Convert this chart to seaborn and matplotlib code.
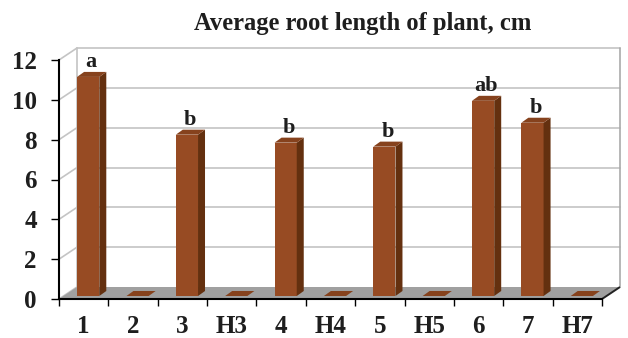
import numpy as np
import pandas as pd
import matplotlib
matplotlib.use("Agg")
import matplotlib.pyplot as plt
import seaborn as sns
from matplotlib.patches import Polygon

# Root length per treatment (cm) and significance letters
categories = ["1", "2", "3", "H3", "4", "H4", "5", "H5", "6", "7", "H7"]
root_length = [11.0, 0.0, 8.1, 0.0, 7.7, 0.0, 7.5, 0.0, 9.8, 8.7, 0.0]
letters = ["a", "", "b", "", "b", "", "b", "", "ab", "b", ""]
y_ticks = [0, 2, 4, 6, 8, 10, 12]

FRONT = "#974B23"
SIDE = "#64300F"
TOP = "#86421D"
FLOOR = "#A0A0A0"
WALL = "#C4C4C4"
INK = "#1E1E1E"

sns.set_theme(style="white")
plt.rcParams["font.family"] = ["Liberation Serif", "DejaVu Serif"]

W, H = 628, 338
fig = plt.figure(figsize=(W / 100, H / 100), dpi=100)
ax = fig.add_axes([59 / W, 39 / H, 543 / W, 239 / H])
ax.set_facecolor("none")

df = pd.DataFrame({"treatment": categories, "length": root_length})
sns.barplot(data=df, x="treatment", y="length", color=FRONT, saturation=1,
            width=0.45, errorbar=None, ax=ax, zorder=3)

ax.set_xlim(-0.5, len(categories) - 0.5)
ax.set_ylim(0, 12)

# data units per pixel
sx = len(categories) / 543
sy = 12 / 239

# depth of the back wall / floor, in pixels
wdx, wdy = 18 * sx, 12 * sy
x_lo, x_hi = -0.5, len(categories) - 0.5

# floor
ax.add_patch(Polygon([(x_lo, 0), (x_hi, 0), (x_hi + wdx, wdy), (x_lo + wdx, wdy)],
                     closed=True, facecolor=FLOOR, edgecolor="none",
                     zorder=1, clip_on=False))
ax.plot([x_hi, x_hi + wdx], [0, wdy], color="#222222", lw=1.4,
        zorder=2, clip_on=False, solid_capstyle="butt")

# back wall frame and gridlines
for v in y_ticks:
    if v > 0:
        ax.plot([x_lo + wdx, x_hi + wdx], [v + wdy, v + wdy], color=WALL,
                lw=1.2, zorder=0.5, clip_on=False)
    ax.plot([x_lo, x_lo + wdx], [v, v + wdy], color=WALL, lw=1.2,
            zorder=0.5, clip_on=False)
ax.plot([x_lo + wdx, x_lo + wdx], [wdy, 12 + wdy], color=WALL, lw=1.2,
        zorder=0.5, clip_on=False)
ax.plot([x_hi + wdx, x_hi + wdx], [wdy, 12 + wdy], color="#AAAAAA", lw=1.2,
        zorder=0.5, clip_on=False)

# 3D bar faces: front face sits slightly inside the floor depth
fx, fy = 4.5 * sx, 3 * sy
bx, by = 7 * sx, 5 * sy
for bar, lab in zip(ax.patches, letters):
    x0, w, h = bar.get_x(), bar.get_width(), bar.get_height()
    bar.set_x(x0 + fx)
    bar.set_y(fy)
    bar.set_edgecolor("none")
    xl, xr = x0 + fx, x0 + fx + w
    ax.add_patch(Polygon([(xr, fy), (xr, fy + h), (xr + bx, fy + h + by), (xr + bx, fy + by)],
                         closed=True, facecolor=SIDE, edgecolor="none",
                         zorder=3, clip_on=False))
    ax.add_patch(Polygon([(xl, fy + h), (xr, fy + h), (xr + bx, fy + h + by), (xl + bx, fy + h + by)],
                         closed=True, facecolor=TOP, edgecolor="none",
                         zorder=3.1, clip_on=False))
    if lab:
        ax.text(x0 + w / 2 + fx + 3 * sx, fy + h + 10 * sy, lab, ha="center",
                va="baseline", fontsize=16, fontweight="bold", color=INK,
                zorder=5, clip_on=False)

# axes
for side in ("top", "right"):
    ax.spines[side].set_visible(False)
for side in ("left", "bottom"):
    ax.spines[side].set_visible(True)
    ax.spines[side].set_color("black")
    ax.spines[side].set_linewidth(1.5)
    ax.spines[side].set_zorder(4)
ax.grid(False)

ax.set_yticks(y_ticks)
ax.set_yticklabels([str(t) for t in y_ticks])
ax.set_xticks(range(len(categories)))
ax.set_xticklabels(categories)
ax.set_xticks(np.arange(-0.5, len(categories), 1), minor=True)
ax.tick_params(axis="y", direction="out", length=6, width=1, color="black",
               pad=10, labelsize=18, labelcolor=INK, left=True)
ax.tick_params(axis="x", which="major", length=0, pad=11.5, labelsize=18,
               labelcolor=INK, bottom=True)
ax.tick_params(axis="x", which="minor", direction="out", length=5, width=1,
               color="black", bottom=True)
for t in ax.get_xticklabels() + ax.get_yticklabels():
    t.set_fontweight("bold")
ax.set_xlabel("")
ax.set_ylabel("")

fig.text(363 / W, 1 - 30 / H, "Average root length of plant, cm", ha="center",
         va="baseline", fontsize=17.7, fontweight="bold", color=INK)

fig.savefig("out.png", dpi=100, facecolor="white")
